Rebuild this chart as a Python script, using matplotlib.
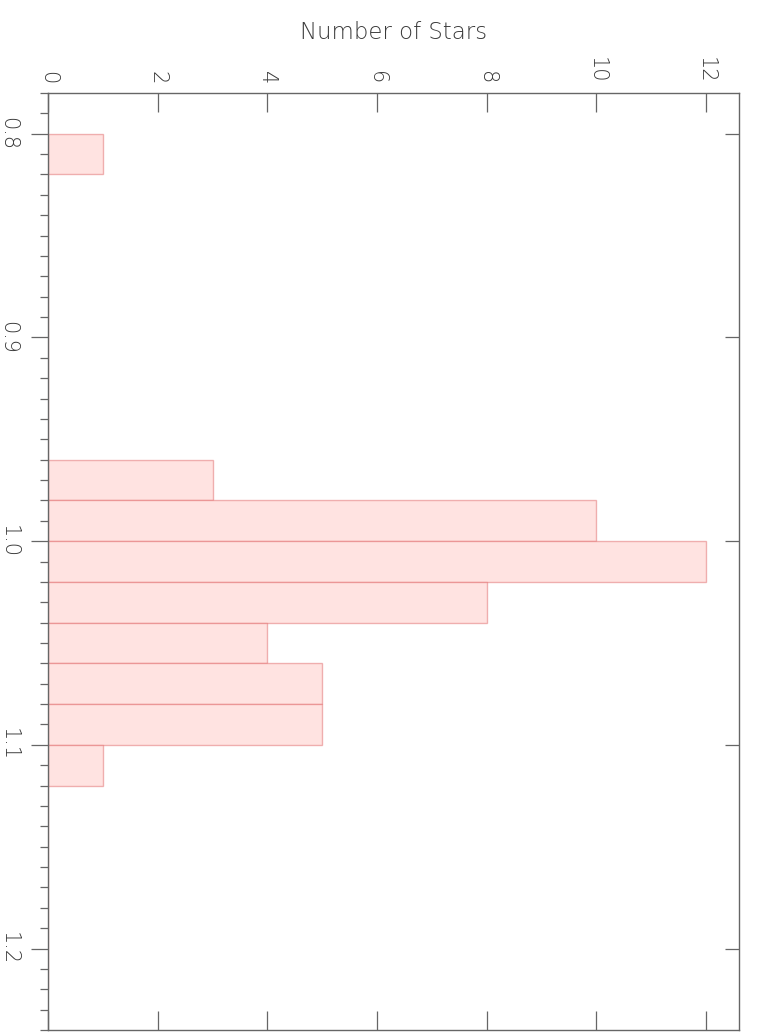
import numpy as np
import matplotlib
matplotlib.use("Agg")
import matplotlib.pyplot as plt
from matplotlib.ticker import MultipleLocator

# histogram of stellar values, bins 0.02 wide starting at 0.80
bin_left = np.round(np.arange(0.80, 1.2201, 0.02), 2)[:21]
counts = [1, 0, 0, 0, 0, 0, 0, 0, 3, 10, 12, 8, 4, 5, 5, 1, 0, 0, 0, 0, 0]
bin_width = 0.02
xlabel = "Number of Stars"

axis_col = "#666666"
text_col = "#3a3a3a"
plt.rcParams["font.family"] = "DejaVu Sans"
plt.rcParams["font.weight"] = "light"

fig = plt.figure(figsize=(7.63, 10.36), dpi=100)
ax = fig.add_axes([48 / 763, 6 / 1036, 691 / 763, 937 / 1036])

ax.barh(bin_left, counts, height=bin_width, align="edge",
        color="#ffe3e1", edgecolor=(0.85, 0.3, 0.3, 0.4), linewidth=1.0)

ax.set_xlim(0, 12.6)
ax.set_ylim(1.24, 0.78)

for sp in ax.spines.values():
    sp.set_color(axis_col)
    sp.set_linewidth(1.0)

ax.xaxis.set_major_locator(MultipleLocator(2))
ax.xaxis.tick_top()
ax.xaxis.set_label_position("top")
ax.tick_params(axis="x", which="major", direction="in", length=13.7, width=0.9,
               color=axis_col, top=True, bottom=True, labeltop=True, labelbottom=False,
               pad=6.5, labelsize=15, labelcolor=text_col, labelrotation=-90)

ax.yaxis.set_major_locator(MultipleLocator(0.1))
ax.yaxis.set_minor_locator(MultipleLocator(0.01))
ax.yaxis.set_major_formatter(plt.FormatStrFormatter("%.1f"))
ax.tick_params(axis="y", which="major", direction="out", length=12.2, width=0.9,
               color=axis_col, left=True, right=False, pad=9,
               labelsize=15, labelcolor=text_col, labelrotation=-90)
ax.tick_params(axis="y", which="minor", direction="out", length=5.8, width=0.9,
               color=axis_col, left=True, right=False)
for lab in ax.get_yticklabels():
    lab.set_verticalalignment("center")

# right side: major ticks only, pointing inward
ax2 = ax.twinx()
ax2.set_ylim(ax.get_ylim())
ax2.yaxis.set_major_locator(MultipleLocator(0.1))
ax2.yaxis.set_minor_locator(plt.NullLocator())
ax2.tick_params(axis="y", direction="in", length=10, width=0.9, color=axis_col,
                labelright=False)
for sp in ax2.spines.values():
    sp.set_visible(False)

ax.set_xlabel(xlabel, fontsize=16.5, fontweight="light", color=text_col, labelpad=13)

fig.savefig("out.png", dpi=100)
